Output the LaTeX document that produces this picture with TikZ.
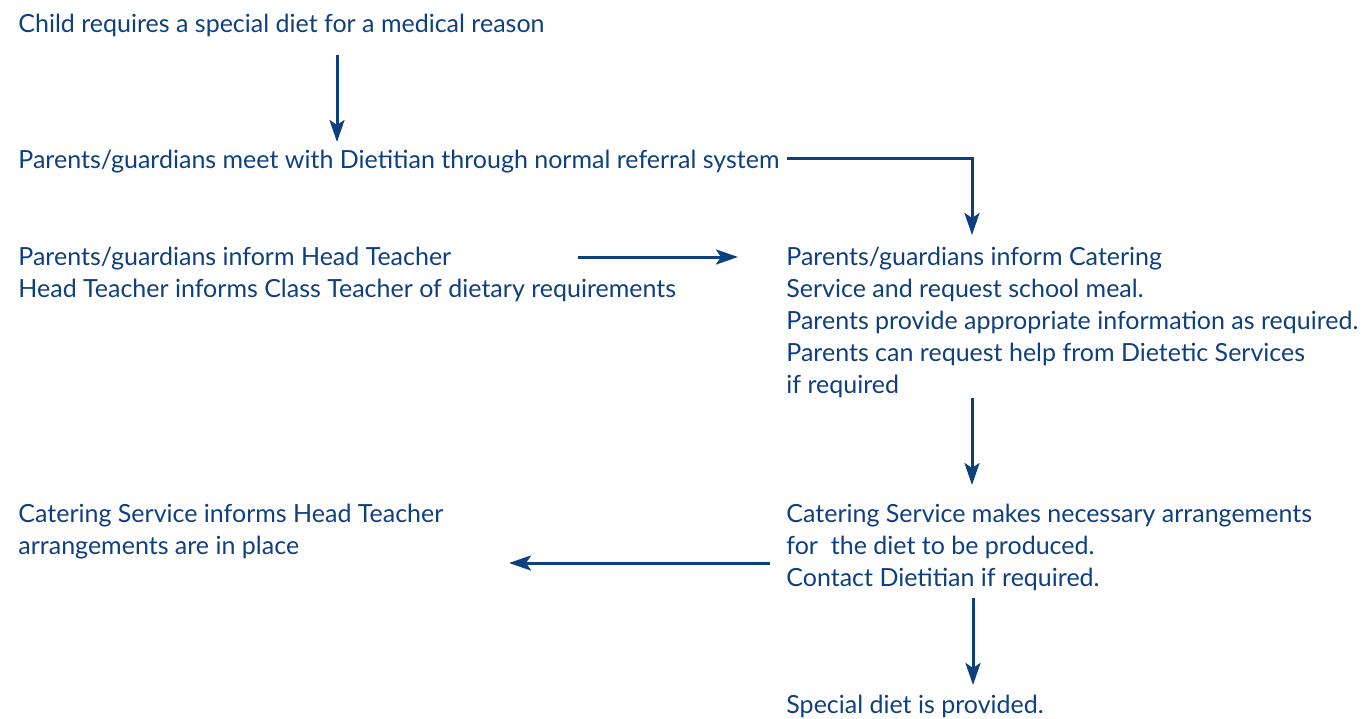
\documentclass[tikz,border=0pt]{standalone}
\usepackage{fontspec}
\setmainfont{Lato}
\usetikzlibrary{arrows.meta,calc}
\definecolor{dietblue}{RGB}{14,64,128}

\begin{document}
\begin{tikzpicture}[x=0.5pt,y=-0.5pt,
  lbl/.style={inner sep=0pt,anchor=base west,align=left,text=dietblue,
    font=\fontsize{12.5}{16}\selectfont},
  flow/.style={draw=dietblue,line width=1.5pt,
    -{Stealth[length=11pt,width=7.5pt,inset=2.5pt]}}]
\useasboundingbox (0,0) rectangle (1364,718);
% left column (multi-line nodes sit on their last baseline)
\node[lbl] (child) at (18,32) {Child requires a special diet for a medical reason};
\node[lbl] (meet) at (18,168) {Parents/guardians meet with Dietitian through normal referral system};
\node[lbl] (head) at (18,297) {Parents/guardians inform Head Teacher\\Head Teacher informs Class Teacher of dietary requirements};
\node[lbl] (inplace) at (18,554) {Catering Service informs Head Teacher\\arrangements are in place};
% right column
\node[lbl] (catering) at (786,393) {Parents/guardians inform Catering\\Service and request school meal.\\Parents provide appropriate information as required.\\Parents can request help from Dietetic Services\\if required};
\node[lbl] (arrange) at (786,586) {Catering Service makes necessary arrangements\\for \ the diet to be produced.\\Contact Dietitian if required.};
\node[lbl] (provided) at (786,713) {Special diet is provided.};
% connectors
\draw[flow] ($(child.base west)+(319,23)$) -- ($(meet.base west)+(319,-26)$);
\draw[flow] ($(meet.base east)+(7,-10)$) -| ($(catering.base west)+(186,-158)$);
\draw[flow] ($(head.base west)+(560,-40)$) -- ($(catering.base west)+(-48,-136)$);
\draw[flow] ($(catering.base west)+(186,5)$) -- ($(arrange.base west)+(186,-101)$);
\draw[flow] ($(arrange.base west)+(-16,-23)$) -- ($(inplace.base west)+(491,9)$);
\draw[flow] ($(arrange.base west)+(187,12)$) -- ($(provided.base west)+(187,-28)$);
\end{tikzpicture}
\end{document}
